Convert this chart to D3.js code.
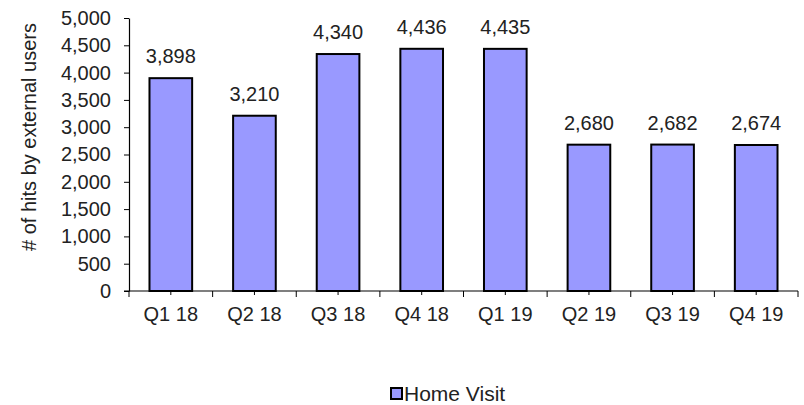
<!DOCTYPE html>
<head>
  <meta charset="utf-8">
  <script src="https://d3js.org/d3.v7.min.js"></script>
  <style>
    body { margin:0; background:#fff; }
    text { font-family: "Liberation Sans", Arial, sans-serif; fill:#222; }
  </style>
</head>
<body>
<script>
// chart data
var quarters = ["Q1 18", "Q2 18", "Q3 18", "Q4 18", "Q1 19", "Q2 19", "Q3 19", "Q4 19"];
var homeVisits = [3898, 3210, 4340, 4436, 4435, 2680, 2682, 2674];
var yTicks = [0, 500, 1000, 1500, 2000, 2500, 3000, 3500, 4000, 4500, 5000];
var seriesName = "Home Visit";
var yTitle = "# of hits by external users";

var width = 804, height = 405;
var plotL = 129, plotR = 798, plotT = 18, plotB = 291;
var fs = "20px";

var svg = d3.select("body").append("svg")
  .attr("width", width)
  .attr("height", height);

var x = d3.scaleBand().domain(quarters).range([plotL, plotR]);
var y = d3.scaleLinear().domain([0, 5000]).range([plotB, plotT]);
var fmt = d3.format(",");

// y axis
var yAxis = svg.append("g")
  .attr("transform", "translate(" + plotL + ",0)")
  .call(d3.axisLeft(y).tickValues(yTicks).tickFormat(fmt).tickSize(5).tickPadding(13).tickSizeOuter(0));
yAxis.select(".domain").attr("stroke", "#000").attr("stroke-width", 1.2);
yAxis.selectAll(".tick line").attr("stroke", "#000");
yAxis.selectAll(".tick text").style("font-size", fs).attr("fill", "#222")
  .style("font-family", "'Liberation Sans', Arial, sans-serif");

// x axis line
svg.append("line")
  .attr("x1", plotL - 5).attr("x2", plotR)
  .attr("y1", plotB).attr("y2", plotB)
  .attr("stroke", "#000").attr("stroke-width", 1.2);

// ticks at category boundaries and centres
var bounds = quarters.map(function(q) { return x(q); }).concat([plotR]);
svg.selectAll("line.btick").data(bounds).enter().append("line")
  .attr("class", "btick")
  .attr("x1", function(d) { return d; }).attr("x2", function(d) { return d; })
  .attr("y1", plotB).attr("y2", plotB + 6)
  .attr("stroke", "#000");
svg.selectAll("line.ctick").data(quarters).enter().append("line")
  .attr("class", "ctick")
  .attr("x1", function(d) { return x(d) + x.bandwidth() / 2; })
  .attr("x2", function(d) { return x(d) + x.bandwidth() / 2; })
  .attr("y1", plotB).attr("y2", plotB + 4)
  .attr("stroke", "#000");

svg.selectAll("text.xlab").data(quarters).enter().append("text")
  .attr("class", "xlab")
  .attr("x", function(d) { return x(d) + x.bandwidth() / 2; })
  .attr("y", plotB + 30)
  .attr("text-anchor", "middle")
  .style("font-size", fs)
  .text(function(d) { return d; });

// bars
var barW = x.bandwidth() * 0.51;
svg.selectAll("rect.bar").data(homeVisits).enter().append("rect")
  .attr("class", "bar")
  .attr("x", function(d, i) { return x(quarters[i]) + (x.bandwidth() - barW) / 2; })
  .attr("y", function(d) { return y(d); })
  .attr("width", barW)
  .attr("height", function(d) { return plotB - y(d); })
  .attr("fill", "#9999FF")
  .attr("stroke", "#000")
  .attr("stroke-width", 2);

// value labels
svg.selectAll("text.val").data(homeVisits).enter().append("text")
  .attr("class", "val")
  .attr("x", function(d, i) { return x(quarters[i]) + x.bandwidth() / 2; })
  .attr("y", function(d) { return y(d) - 15; })
  .attr("text-anchor", "middle")
  .style("font-size", fs)
  .text(function(d) { return fmt(d); });

// y title
svg.append("text")
  .attr("transform", "translate(36,137)rotate(-90)")
  .attr("text-anchor", "middle")
  .style("font-size", fs)
  .text(yTitle);

// legend
var lg = svg.append("g").attr("transform", "translate(391,388)");
lg.append("rect").attr("width", 11).attr("height", 11)
  .attr("fill", "#9999FF").attr("stroke", "#000").attr("stroke-width", 2);
lg.append("text").attr("x", 13).attr("y", 13)
  .style("font-size", "21px")
  .text(seriesName);
</script>
</body>
</html>
